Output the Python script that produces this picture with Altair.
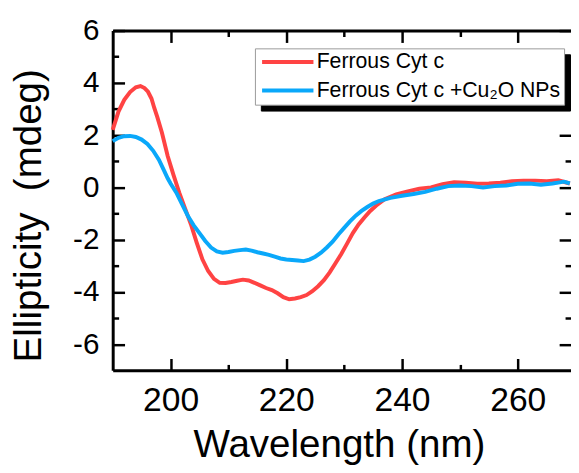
import altair as alt
import pandas as pd

S1 = "Ferrous Cyt c"
S2 = "Ferrous Cyt c +Cu\u2082O NPs"

red_x = [190, 191, 192, 193, 194, 194.8, 195.5, 196.1, 196.7, 197.2, 197.7, 198.5, 199.5, 200.5,
         201.5, 202.5, 203.5, 204.5, 205.5, 206.5, 207.5, 208.5, 209.5, 210.5, 211.5, 212.5,
         213.5, 214.5, 215.5, 216.5, 217.5, 218.5, 219.5, 220.5, 221.5, 222.5, 223.5, 224.5,
         225.5, 226.5, 227.5, 228.5, 229.5, 230.5, 231.5, 232.5, 233.5, 234.5, 235.5, 237,
         239, 241, 243, 245, 247, 249, 251, 253, 255, 257, 259, 261, 263, 265, 267, 269]
red_y = [2.2, 2.9, 3.35, 3.65, 3.83, 3.88, 3.8, 3.66, 3.4, 3.03, 2.7, 2.1, 1.2, 0.48,
         -0.2, -0.8, -1.4, -2.1, -2.75, -3.2, -3.5, -3.65, -3.66, -3.62, -3.57, -3.53,
         -3.56, -3.65, -3.75, -3.85, -3.93, -4.05, -4.2, -4.28, -4.25, -4.2, -4.12, -3.97,
         -3.78, -3.55, -3.25, -2.9, -2.55, -2.15, -1.75, -1.42, -1.15, -0.9, -0.7, -0.45,
         -0.27, -0.15, -0.05, 0.0, 0.12, 0.2, 0.18, 0.14, 0.15, 0.18, 0.24, 0.26, 0.26, 0.24, 0.27, 0.15]

blue_x = [190, 191, 192, 193, 194, 195, 196, 197, 198, 198.9, 199.5, 200, 201, 202, 203, 204,
          205, 206, 207, 208, 209, 210, 211, 212, 213, 214, 215, 216, 217, 218, 219, 220,
          221, 222, 223, 224, 225, 226, 227, 228, 229, 230, 231, 232, 233, 234, 235, 236,
          238, 240, 242, 244, 246, 248, 250, 252, 254, 256, 258, 260, 262, 264, 266, 268, 269]
blue_y = [1.77, 1.9, 1.96, 1.97, 1.93, 1.83, 1.66, 1.4, 1.05, 0.63, 0.35, 0.15, -0.2, -0.65, -1.1, -1.45,
          -1.75, -2.05, -2.3, -2.45, -2.5, -2.47, -2.43, -2.4, -2.38, -2.42, -2.48, -2.53,
          -2.58, -2.65, -2.72, -2.76, -2.78, -2.8, -2.82, -2.76, -2.65, -2.5, -2.3, -2.08,
          -1.8, -1.55, -1.3, -1.08, -0.9, -0.75, -0.62, -0.52, -0.4, -0.32, -0.25, -0.17,
          -0.05, 0.05, 0.07, 0.05, 0.0, 0.05, 0.07, 0.14, 0.15, 0.1, 0.15, 0.22, 0.15]

x_ticks = [200, 210, 220, 230, 240, 250, 260]
y_ticks = [-6, -5, -4, -3, -2, -1, 0, 1, 2, 3, 4, 5, 6]

df = pd.concat([
    pd.DataFrame({"wl": red_x, "val": red_y, "series": S1, "o": range(len(red_x))}),
    pd.DataFrame({"wl": blue_x, "val": blue_y, "series": S2, "o": range(len(blue_x))}),
])

FONT = "Liberation Sans"
xs = alt.Scale(domain=[190, 269.2], nice=False, zero=False)
ys = alt.Scale(domain=[-7, 6], nice=False, zero=False)

x_bottom = alt.Axis(
    values=x_ticks, title="Wavelength (nm)",
    labelExpr="datum.value % 20 === 0 ? '' + datum.value : ''",
    tickSize=alt.ExprRef("datum.value % 20 === 0 ? -12 : -6"),
    tickWidth=2.5, tickColor="black", domainColor="black", domainWidth=3,
    labelFont=FONT, labelFontSize=34, labelColor="black", labelPadding=26,
    labelBaseline="top", grid=False,
    titleFont=FONT, titleFontSize=39, titleFontWeight="normal", titleColor="black",
    titleX=229, titleY=87, titleBaseline="alphabetic", titleAlign="center",
)
y_left = alt.Axis(
    values=y_ticks, title="Ellipticity\u00a0\u00a0(mdeg)",
    labelExpr="datum.value % 2 === 0 ? '' + datum.value : ''",
    tickSize=alt.ExprRef("datum.value % 2 === 0 ? -12 : -6"),
    tickWidth=2.5, tickColor="black", domainColor="black", domainWidth=3,
    labelFont=FONT, labelFontSize=30, labelColor="black", labelPadding=26,
    labelAlign="right", labelBaseline="middle", grid=False,
    titleFont=FONT, titleFontSize=39, titleFontWeight="normal", titleColor="black",
    titleX=-85, titleY=187, titleBaseline="middle", titleAlign="center", titleAngle=270,
)
x_top = alt.Axis(
    orient="top", values=x_ticks, title=None, labels=False,
    tickSize=alt.ExprRef("datum.value % 20 === 0 ? -12 : -6"),
    tickWidth=2.5, tickColor="black", domainColor="black", domainWidth=3, grid=False,
)
y_right = alt.Axis(
    orient="right", values=y_ticks, title=None, labels=False, domain=False,
    tickSize=alt.ExprRef("datum.value % 2 === 0 ? -12 : -6"),
    tickWidth=2.5, tickColor="black", grid=False,
)

legend_common = dict(
    orient="none", title=None, padding=3, symbolType="M-1,0H7", symbolSize=169,
    symbolStrokeWidth=4, labelFont=FONT, labelFontSize=21.5, labelOffset=38,
    rowPadding=6, labelLimit=500,
)

lines = alt.Chart(df).mark_line(strokeWidth=4).encode(
    x=alt.X("wl:Q", scale=xs, axis=x_bottom),
    y=alt.Y("val:Q", scale=ys, axis=y_left),
    stroke=alt.Stroke("series:N", scale=alt.Scale(domain=[S1, S2], range=["#ff4343", "#0aa8fa"]),
                      legend=alt.Legend(legendX=144, legendY=18, fillColor="white", zindex=2,
                                        strokeColor="#9a9a9a", labelColor="black", **legend_common)),
    order="o:Q",
)

frame = alt.Chart(df).mark_line(strokeOpacity=0).encode(
    x=alt.X("wl:Q", scale=xs, axis=x_top),
    y=alt.Y("val:Q", scale=ys, axis=y_right),
    color=alt.Color("series:N", scale=alt.Scale(domain=[S1, S2], range=["black", "black"]),
                    legend=alt.Legend(legendX=150, legendY=24, fillColor="black", zindex=1,
                                      strokeColor="black", labelOpacity=0, symbolOpacity=0,
                                      **legend_common)),
    order="o:Q",
)

chart = alt.layer(frame, lines).resolve_axis(x="independent", y="independent").resolve_scale(
    color="independent", stroke="independent"
).properties(
    width=464, height=344,
    autosize=alt.AutoSizeParams(type="none"),
    padding={"left": 106, "top": 20, "right": 0, "bottom": 97},
).configure_view(stroke=None).configure(background="white")

chart.save("out.html", embed_options={"renderer": "svg", "actions": False})
